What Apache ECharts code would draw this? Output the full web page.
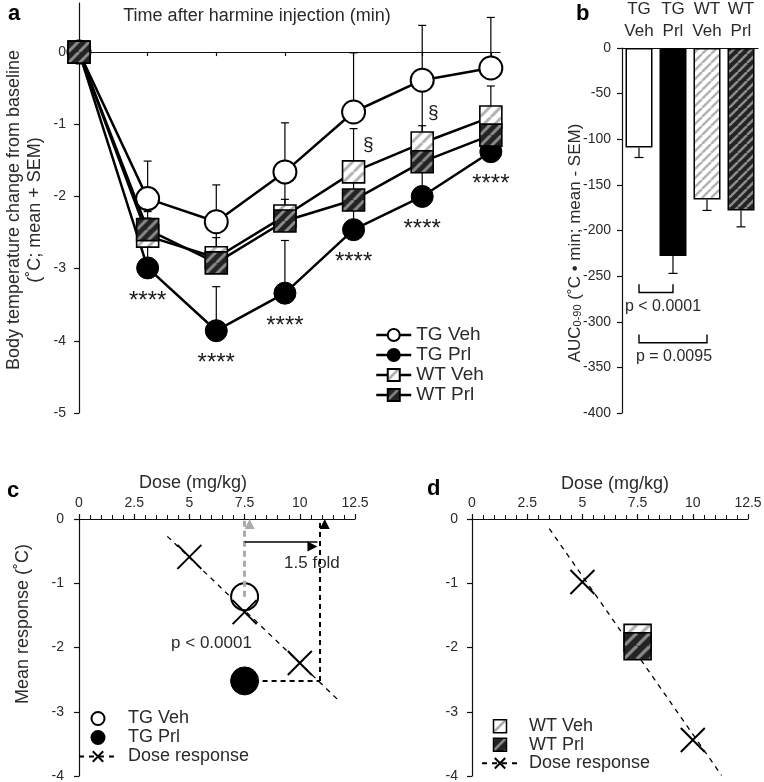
<!DOCTYPE html>
<html><head><meta charset="utf-8">
<script src="https://cdn.jsdelivr.net/npm/echarts@6/dist/echarts.min.js"></script>
<style>html,body{margin:0;padding:0;background:#fff}#c{width:764px;height:782px}</style>
</head><body><div id="c"></div>
<script>
// ---------------- DATA ----------------
// Panel a: body temperature change (°C), mean and SEM
const timeMin   = [0, 15, 30, 45, 60, 75, 90];
const tgVehMean = [0, -2.03, -2.35, -1.66, -0.83, -0.39, -0.22];
const tgVehSem  = [0, 0.52, 0.51, 0.68, 0.82, 0.76, 0.70];
const tgPrlMean = [0, -2.99, -3.86, -3.34, -2.46, -2.00, -1.38];
const tgPrlSem  = [0, 0.35, 0.61, 0.73, 0.35, 0.40, 0.25];
const wtVehMean = [0, -2.55, -2.85, -2.27, -1.66, -1.26, -0.90];
const wtVehSem  = [0, 0.25, 0.40, 0.45, 0.60, 0.24, 0.43];
const wtPrlMean = [0, -2.46, -2.92, -2.34, -2.05, -1.52, -1.15];
const wtPrlSem  = [0, 0.25, 0.35, 0.30, 0.30, 1.00, 0.30];
const timeTicks = [15, 30, 45, 60, 75, 90];
const tempTicks = [-5, -4, -3, -2, -1, 0];
const sigStars  = ['****', '****', '****', '****', '****', '****']; // TG Prl, t = 15..90
const sectionMarks = [{text: '§', at: [63.2, -1.29]}, {text: '§', at: [77.4, -0.84]}];

// Panel b: AUC 0-90
const aucGroups = ['TG\nVeh', 'TG\nPrl', 'WT\nVeh', 'WT\nPrl'];
const aucMean   = [-109, -228, -166, -178];
const aucSem    = [11, 19, 12, 18];
const aucBrackets = [
  {from: 0, to: 1, line: -268, tick: -259, text: 'p < 0.0001'},
  {from: 0, to: 2, line: -323, tick: -314, text: 'p = 0.0095'}
];

// Panel c: dose response, TG mice
const doseTicks   = [0, 2.5, 5, 7.5, 10, 12.5];
const cDoses      = [5, 7.5, 10];
const cDoseResp   = [-0.59, -1.45, -2.24];
const cFitDose    = [4.0, 11.75];
const cFitResp    = [-0.27, -2.82];
const cTgVeh      = [7.5, -1.21];
const cTgPrl      = [7.5, -2.52];
const cEquivDose  = 10.9;
const cFoldArrowY = -0.35;
const cNotes = [{text: '1.5 fold', at: [10.55, -0.69]}, {text: 'p < 0.0001', at: [6.0, -1.93]}];

// Panel d: dose response, WT mice
const dDoses    = [5, 10];
const dDoseResp = [-0.98, -3.44];
const dFitDose  = [3.5, 11.3];
const dFitResp  = [-0.15, -3.99];
const dWtVeh    = [7.5, -1.85];
const dWtPrl    = [7.5, -1.98];

// ---------------- STYLE HELPERS ----------------
const FONT = '"Liberation Sans", Arial, Helvetica, sans-serif';
const INK = '#111';
const TXT = '#2a2a2a';

function hatch(bg, fg, tile, w) {
  const c = document.createElement('canvas');
  c.width = tile; c.height = tile;
  const g = c.getContext('2d');
  g.fillStyle = bg; g.fillRect(0, 0, tile, tile);
  g.strokeStyle = fg; g.lineWidth = w;
  for (const k of [-tile, 0, tile]) {
    g.beginPath(); g.moveTo(k, tile); g.lineTo(k + tile, 0); g.stroke();
  }
  return c;
}
const LIGHT_BG = '#ffffff', LIGHT_FG = '#b2b2b2';
const DARK_BG = '#232323', DARK_FG = '#8c8c8c';
const sqLight = hatch(LIGHT_BG, LIGHT_FG, 11, 3);
const sqDark  = hatch(DARK_BG, DARK_FG, 11, 3);
const bigLight = hatch(LIGHT_BG, LIGHT_FG, 13, 3.2);
const bigDark  = hatch(DARK_BG, DARK_FG, 13, 3.2);
const barLight = hatch(LIGHT_BG, LIGHT_FG, 9, 2.5);
const barDark  = hatch(DARK_BG, DARK_FG, 9, 2.5);
const icoLight = hatch(LIGHT_BG, '#a8a8a8', 12, 2.5);
const icoDark  = hatch(DARK_BG, DARK_FG, 12, 2.5);
const pat = (img, x, y) => ({image: img, repeat: 'repeat', x: x || 0, y: y || 0});
const SQUARE_ICON = 'path://M0,0L10,0L10,10L0,10Z';

function squareRenderer(img, size) {
  return function (params, api) {
    const p = api.coord([api.value(0), api.value(1)]);
    const x = p[0] - size / 2, y = p[1] - size / 2;
    return {type: 'rect', shape: {x: x, y: y, width: size, height: size},
      style: {fill: pat(img, x, y), stroke: '#000', lineWidth: 1.6}};
  };
}
function errRenderer(dir, capHalf) {
  return function (params, api) {
    const x = api.value(0), m = api.value(1), s = api.value(2);
    if (!s) return null;
    const p0 = api.coord([x, m]), p1 = api.coord([x, m + dir * s]);
    return {type: 'group', children: [
      {type: 'line', shape: {x1: p0[0], y1: p0[1], x2: p1[0], y2: p1[1]}, style: {stroke: '#000', lineWidth: 1.2}},
      {type: 'line', shape: {x1: p1[0] - capHalf, y1: p1[1], x2: p1[0] + capHalf, y2: p1[1]}, style: {stroke: '#000', lineWidth: 1.2}}
    ]};
  };
}
const XPATH = 'path://M0,0L10,10M10,0L0,10';
const stripPrefix = n => n.replace(/^[a-z]:/, '');
const HIDDEN = {color: 'rgba(0,0,0,0)', opacity: 1};

const errRows = [];
[[tgVehMean, tgVehSem], [tgPrlMean, tgPrlSem], [wtVehMean, wtVehSem], [wtPrlMean, wtPrlSem]].forEach(([m, s]) => {
  timeMin.forEach((t, i) => errRows.push([t, m[i], s[i]]));
});
const pairs = (xs, ys) => xs.map((x, i) => [x, ys[i]]);

const valueAxisCommon = {
  axisLine: {show: true, onZero: false, lineStyle: {color: INK, width: 1.2}},
  axisTick: {show: true, length: 5, lineStyle: {color: INK, width: 1.2}},
  splitLine: {show: false},
  axisLabel: {fontSize: 14, color: TXT, fontFamily: FONT}
};
function vAxis(extra) {
  const o = JSON.parse(JSON.stringify(valueAxisCommon));
  for (const k in extra) {
    if (typeof extra[k] === 'object' && !Array.isArray(extra[k]) && o[k]) Object.assign(o[k], extra[k]);
    else o[k] = extra[k];
  }
  return o;
}

const option = {
  animation: false,
  textStyle: {fontFamily: FONT},
  grid: [
    {left: 79, top: 3, width: 421, height: 410, outerBoundsMode: 'none'},
    {left: 622, top: 48, width: 136, height: 365, outerBoundsMode: 'none'},
    {left: 79, top: 519, width: 276, height: 257, outerBoundsMode: 'none'},
    {left: 472, top: 519, width: 276, height: 257, outerBoundsMode: 'none'}
  ],
  xAxis: [
    vAxis({gridIndex: 0, type: 'value', position: 'top', min: 0, max: 92,
      axisLine: {onZero: true}, axisTick: {customValues: timeTicks, length: 4, inside: true},
      axisLabel: {customValues: timeTicks, fontSize: 15, margin: 9}}),
    {gridIndex: 1, type: 'category', data: aucGroups, position: 'top',
      axisLine: {show: true, onZero: false, lineStyle: {color: INK, width: 1.2}},
      axisTick: {show: false},
      axisLabel: {interval: 0, fontSize: 17, lineHeight: 22, margin: 6, color: TXT, fontFamily: FONT}},
    vAxis({gridIndex: 2, type: 'value', position: 'top', min: 0, max: 12.5, interval: 2.5,
      minorTick: {show: true, splitNumber: 5, length: 4, lineStyle: {color: INK}},
      axisLabel: {margin: 9}}),
    vAxis({gridIndex: 3, type: 'value', position: 'top', min: 0, max: 12.5, interval: 2.5,
      minorTick: {show: true, splitNumber: 5, length: 4, lineStyle: {color: INK}},
      axisLabel: {margin: 9}})
  ],
  yAxis: [
    vAxis({gridIndex: 0, type: 'value', min: -5, max: 0.68,
      axisTick: {customValues: tempTicks}, axisLabel: {customValues: tempTicks, margin: 13}}),
    vAxis({gridIndex: 1, type: 'value', min: -400, max: 0, interval: 50, axisLabel: {margin: 11}}),
    vAxis({gridIndex: 2, type: 'value', min: -4, max: 0, interval: 1, axisLabel: {margin: 15}}),
    vAxis({gridIndex: 3, type: 'value', min: -4, max: 0, interval: 1, axisLabel: {margin: 14}})
  ],
  legend: [
    {orient: 'vertical', left: 375, top: 325, padding: 0, itemGap: 0, itemWidth: 35, itemHeight: 15,
      selectedMode: false, data: ['TG Veh', 'TG Prl', 'WT Veh', 'WT Prl'],
      lineStyle: {width: 2.5},
      textStyle: {fontSize: 19, lineHeight: 20, color: TXT, fontFamily: FONT}},
    {orient: 'vertical', left: 78, top: 709, padding: 0, itemGap: 0, itemWidth: 38, itemHeight: 13,
      selectedMode: false, data: ['c:TG Veh', 'c:TG Prl', 'c:Dose response'], formatter: stripPrefix,
      textStyle: {fontSize: 18, lineHeight: 19, color: TXT, fontFamily: FONT, padding: [0, 0, 0, 6]}},
    {orient: 'vertical', left: 481, top: 717, padding: 0, itemGap: 0, itemWidth: 36, itemHeight: 13,
      selectedMode: false, formatter: stripPrefix, symbolKeepAspect: true,
      data: [
        {name: 'd:WT Veh', icon: SQUARE_ICON, itemStyle: {color: pat(icoLight), borderColor: '#000', borderWidth: 1.5}},
        {name: 'd:WT Prl', icon: SQUARE_ICON, itemStyle: {color: pat(icoDark), borderColor: '#000', borderWidth: 1.5}},
        'd:Dose response'],
      textStyle: {fontSize: 18, lineHeight: 18.5, color: TXT, fontFamily: FONT, padding: [0, 0, 0, 6]}}
  ],
  series: [
    // ---- panel a ----
    {type: 'custom', name: 'a:err', xAxisIndex: 0, yAxisIndex: 0, z: 1, silent: true,
      renderItem: errRenderer(1, 4), data: errRows},
    {type: 'line', name: 'TG Veh', xAxisIndex: 0, yAxisIndex: 0, z: 2, silent: true,
      data: pairs(timeMin, tgVehMean), symbol: 'circle', symbolSize: 23,
      itemStyle: {color: '#fff', borderColor: '#000', borderWidth: 2},
      lineStyle: {color: '#000', width: 2.5}},
    {type: 'line', name: 'TG Prl', xAxisIndex: 0, yAxisIndex: 0, z: 2, silent: true,
      data: pairs(timeMin, tgPrlMean), symbol: 'circle', symbolSize: 22,
      itemStyle: {color: '#000', borderColor: '#000', borderWidth: 1},
      lineStyle: {color: '#000', width: 2.5}},
    {type: 'line', name: 'WT Veh', xAxisIndex: 0, yAxisIndex: 0, z: 2, silent: true,
      data: pairs(timeMin, wtVehMean), symbol: 'rect', showSymbol: false,
      itemStyle: {color: pat(icoLight), borderColor: '#000', borderWidth: 1.5},
      lineStyle: {color: '#000', width: 2.5}},
    {type: 'line', name: 'WT Prl', xAxisIndex: 0, yAxisIndex: 0, z: 2, silent: true,
      data: pairs(timeMin, wtPrlMean), symbol: 'rect', showSymbol: false,
      itemStyle: {color: pat(icoDark), borderColor: '#000', borderWidth: 1.5},
      lineStyle: {color: '#000', width: 2.5}},
    {type: 'custom', name: 'a:WT Veh squares', xAxisIndex: 0, yAxisIndex: 0, z: 3, silent: true,
      renderItem: squareRenderer(sqLight, 22), data: pairs(timeMin, wtVehMean)},
    {type: 'custom', name: 'a:WT Prl squares', xAxisIndex: 0, yAxisIndex: 0, z: 3, silent: true,
      renderItem: squareRenderer(sqDark, 22), data: pairs(timeMin, wtPrlMean)},
    {type: 'scatter', name: 'a:stars', xAxisIndex: 0, yAxisIndex: 0, z: 4, silent: true,
      data: pairs(timeMin.slice(1), tgPrlMean.slice(1)), symbolSize: 1, itemStyle: HIDDEN,
      label: {show: true, position: 'inside', offset: [0, 33], fontSize: 24, color: '#1a1a1a',
        formatter: p => sigStars[p.dataIndex]}},
    {type: 'scatter', name: 'a:section', xAxisIndex: 0, yAxisIndex: 0, z: 4, silent: true,
      data: sectionMarks.map(s => s.at), symbolSize: 1, itemStyle: HIDDEN,
      label: {show: true, position: 'inside', fontSize: 19, color: '#1a1a1a',
        formatter: p => sectionMarks[p.dataIndex].text}},
    // ---- panel b ----
    {type: 'bar', name: 'b:auc', xAxisIndex: 1, yAxisIndex: 1, barWidth: 27, z: 2, silent: true,
      data: [
        {value: aucMean[0], itemStyle: {color: '#fff', borderColor: '#000', borderWidth: 1.5}},
        {value: aucMean[1], itemStyle: {color: '#000', borderColor: '#000', borderWidth: 1.5}},
        {value: aucMean[2], itemStyle: {color: pat(barLight), borderColor: '#000', borderWidth: 1.5}},
        {value: aucMean[3], itemStyle: {color: pat(barDark), borderColor: '#000', borderWidth: 1.5}}
      ]},
    {type: 'custom', name: 'b:err', xAxisIndex: 1, yAxisIndex: 1, z: 3, silent: true,
      renderItem: errRenderer(-1, 4.5), data: aucMean.map((m, i) => [i, m, aucSem[i]])},
    {type: 'custom', name: 'b:brackets', xAxisIndex: 1, yAxisIndex: 1, z: 3, silent: true,
      data: aucBrackets.map(b => [b.from, b.line]),
      renderItem: function (params, api) {
        const b = aucBrackets[params.dataIndex];
        const dx = [7, 1][params.dataIndex];
        const a = api.coord([b.from, b.line]), c = api.coord([b.to, b.line]);
        const t = api.coord([b.from, b.tick]);
        return {type: 'group', children: [
          {type: 'polyline', shape: {points: [[a[0], t[1]], [a[0], a[1]], [c[0], c[1]], [c[0], t[1]]]},
            style: {stroke: '#000', lineWidth: 1.4, fill: null}},
          {type: 'text', x: (a[0] + c[0]) / 2 + dx, y: a[1] + 14,
            style: {text: b.text, fontSize: 16, fontFamily: FONT, fill: TXT, align: 'center', verticalAlign: 'middle'}}
        ]};
      }},
    // ---- panel c ----
    {type: 'line', name: 'c:Dose response', xAxisIndex: 2, yAxisIndex: 2, z: 2, silent: true,
      data: pairs(cFitDose, cFitResp), symbol: XPATH, showSymbol: false,
      itemStyle: {color: '#000', borderColor: '#000', borderWidth: 1.5},
      lineStyle: {color: '#000', width: 1.3, type: [5, 5]}},
    {type: 'scatter', name: 'c:annot', xAxisIndex: 2, yAxisIndex: 2, z: 3, silent: true,
      data: cNotes.map(n => n.at), symbolSize: 1, itemStyle: HIDDEN,
      label: {show: true, position: 'inside', fontSize: 17, color: TXT, formatter: p => cNotes[p.dataIndex].text},
      markLine: {silent: true, animation: false, label: {show: false},
        symbolSize: [10, 10], symbolOffset: [0, '50%'],
        data: [
          [{coord: cTgVeh, symbol: 'none', lineStyle: {color: '#ababab', width: 3, type: [6, 4]}},
           {coord: [cTgVeh[0], 0], symbol: 'triangle', itemStyle: {color: '#ababab'}}],
          [{coord: cTgPrl, symbol: 'none', lineStyle: {color: '#000', width: 2, type: [5, 4]}},
           {coord: [cEquivDose, cTgPrl[1]], symbol: 'none'}],
          [{coord: [cEquivDose, cTgPrl[1]], symbol: 'none', lineStyle: {color: '#000', width: 2, type: [5, 4]}},
           {coord: [cEquivDose, 0], symbol: 'triangle', itemStyle: {color: '#000'}}],
          [{coord: [cTgVeh[0], cFoldArrowY], symbol: 'none', lineStyle: {color: '#000', width: 1.5, type: 'solid'}},
           {coord: [cEquivDose - 0.1, cFoldArrowY], symbol: 'triangle', itemStyle: {color: '#000'}}]
        ]}},
    {type: 'scatter', name: 'c:TG Veh', xAxisIndex: 2, yAxisIndex: 2, z: 4, silent: true,
      data: [cTgVeh], symbol: 'circle', symbolSize: 27,
      itemStyle: {color: '#fff', borderColor: '#000', borderWidth: 2, opacity: 1}},
    {type: 'scatter', name: 'c:TG Prl', xAxisIndex: 2, yAxisIndex: 2, z: 4, silent: true,
      data: [cTgPrl], symbol: 'circle', symbolSize: 28,
      itemStyle: {color: '#000', borderColor: '#000', borderWidth: 1, opacity: 1}},
    {type: 'scatter', name: 'c:Dose points', xAxisIndex: 2, yAxisIndex: 2, z: 5, silent: true,
      data: pairs(cDoses, cDoseResp), symbol: XPATH, symbolSize: 24,
      itemStyle: {color: 'rgba(0,0,0,0)', borderColor: '#000', borderWidth: 2, opacity: 1}},
    // ---- panel d ----
    {type: 'line', name: 'd:Dose response', xAxisIndex: 3, yAxisIndex: 3, z: 2, silent: true,
      data: pairs(dFitDose, dFitResp), symbol: XPATH, showSymbol: false,
      itemStyle: {color: '#000', borderColor: '#000', borderWidth: 1.5},
      lineStyle: {color: '#000', width: 1.3, type: [5, 5]}},
    {type: 'custom', name: 'd:WT Veh', xAxisIndex: 3, yAxisIndex: 3, z: 4, silent: true,
      itemStyle: {color: pat(icoLight), borderColor: '#000', borderWidth: 1.5},
      renderItem: squareRenderer(bigLight, 27), data: [dWtVeh]},
    {type: 'custom', name: 'd:WT Prl', xAxisIndex: 3, yAxisIndex: 3, z: 4, silent: true,
      itemStyle: {color: pat(icoDark), borderColor: '#000', borderWidth: 1.5},
      renderItem: squareRenderer(bigDark, 27), data: [dWtPrl]},
    {type: 'scatter', name: 'd:Dose points', xAxisIndex: 3, yAxisIndex: 3, z: 5, silent: true,
      data: pairs(dDoses, dDoseResp), symbol: XPATH, symbolSize: 24,
      itemStyle: {color: 'rgba(0,0,0,0)', borderColor: '#000', borderWidth: 2, opacity: 1}}
  ],
  graphic: [
    {type: 'text', x: 8, y: 14, style: {text: 'a', fontSize: 22, fontWeight: 'bold', fontFamily: FONT, fill: '#000', verticalAlign: 'middle'}},
    {type: 'text', x: 576, y: 14, style: {text: 'b', fontSize: 22, fontWeight: 'bold', fontFamily: FONT, fill: '#000', verticalAlign: 'middle'}},
    {type: 'text', x: 7, y: 491, style: {text: 'c', fontSize: 22, fontWeight: 'bold', fontFamily: FONT, fill: '#000', verticalAlign: 'middle'}},
    {type: 'text', x: 427, y: 489, style: {text: 'd', fontSize: 22, fontWeight: 'bold', fontFamily: FONT, fill: '#000', verticalAlign: 'middle'}},
    {type: 'text', x: 257, y: 16, style: {text: 'Time after harmine injection (min)', fontSize: 18, fontFamily: FONT, fill: TXT, align: 'center', verticalAlign: 'middle'}},
    {type: 'text', x: 25, y: 210, rotation: Math.PI / 2,
      style: {text: 'Body temperature change from baseline\n(˚C; mean + SEM)', fontSize: 18, lineHeight: 21, fontFamily: FONT, fill: TXT, align: 'center', verticalAlign: 'middle'}},
    {type: 'text', x: 575, y: 243, rotation: Math.PI / 2,
      style: {text: 'AUC{s|0-90} (˚C • min; mean - SEM)', fontSize: 17, fontFamily: FONT, fill: TXT, align: 'center', verticalAlign: 'middle',
        rich: {s: {fontSize: 11, fontFamily: FONT, fill: TXT, verticalAlign: 'bottom', padding: [6, 0, 0, 0]}}}},
    {type: 'text', x: 23, y: 624, rotation: Math.PI / 2,
      style: {text: 'Mean response (˚C)', fontSize: 18, fontFamily: FONT, fill: TXT, align: 'center', verticalAlign: 'middle'}},
    {type: 'text', x: 193, y: 483, style: {text: 'Dose (mg/kg)', fontSize: 18, fontFamily: FONT, fill: TXT, align: 'center', verticalAlign: 'middle'}},
    {type: 'text', x: 615, y: 484, style: {text: 'Dose (mg/kg)', fontSize: 18, fontFamily: FONT, fill: TXT, align: 'center', verticalAlign: 'middle'}}
  ]
};
const chart = echarts.init(document.getElementById('c'), null, {renderer: 'canvas', width: 764, height: 782});
chart.setOption(option);
</script>
</body></html>
